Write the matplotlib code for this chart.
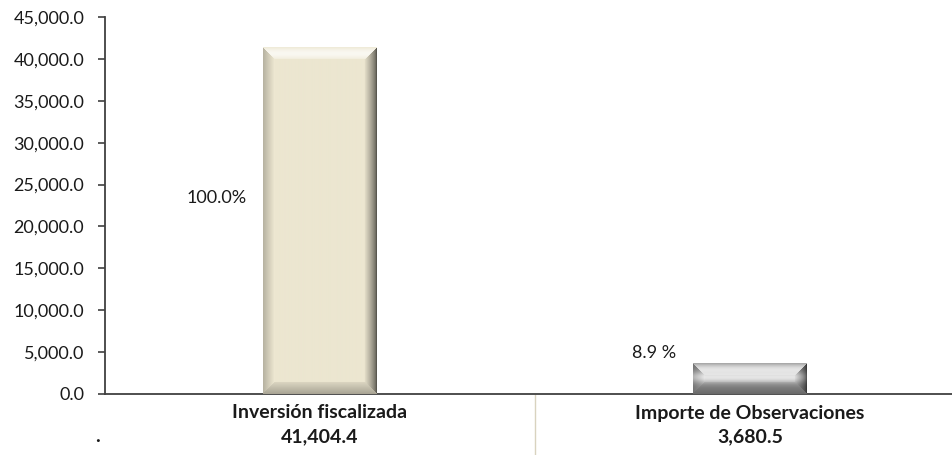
import numpy as np
import matplotlib
matplotlib.use('Agg')
import matplotlib.pyplot as plt
import matplotlib.transforms as mtransforms

plt.rcParams['font.family'] = ['Lato', 'DejaVu Sans']

# datos
categorias = ['Inversión fiscalizada', 'Importe de Observaciones']
importes = [41404.4, 3680.5]
porcentajes = ['100.0%', '8.9 %']
colores_cara = [(236, 230, 208), (175, 175, 175)]


def bevel_image(h, w, base, b=12, gris=False):
    # imagen RGB con efecto biselado
    ii, jj = np.mgrid[0:h, 0:w]
    face = np.ones((h, w, 3)) * np.array(base) / 255.0
    if gris:
        t = ii / max(h - 1, 1)
        perfil = 0.58 + 0.32 * np.exp(-((t - 0.45) / 0.2) ** 2)
        face = np.ones((h, w, 3)) * perfil[..., None]
    d_t, d_b = ii, h - 1 - ii
    d_l, d_r = jj, w - 1 - jj
    stack = np.stack([d_t, d_b, d_l, d_r])
    idx = np.argmin(stack, axis=0)
    dmin = np.min(stack, axis=0)
    f = np.clip(dmin / b, 0, 1)
    out = face.copy()
    m = dmin < b
    # arriba: claro
    top = m & (idx == 0)
    mix = 0.2 + 0.5 * np.sin(np.pi * f)
    out[top] = face[top] + (1 - face[top]) * mix[top][:, None]
    # abajo: algo oscuro
    bot = m & (idx == 1)
    out[bot] = face[bot] * (0.72 + 0.22 * f[bot])[:, None]
    # izquierda
    lef = m & (idx == 2)
    out[lef] = face[lef] * (0.78 + 0.25 * f[lef])[:, None]
    # derecha: oscuro
    rig = m & (idx == 3)
    out[rig] = face[rig] * (0.38 + 0.6 * f[rig] ** 0.7)[:, None]
    return np.clip(out, 0, 1)


fig = plt.figure(figsize=(9.52, 4.55), dpi=100)
ax = fig.add_axes([105 / 952, 1 - 394 / 455, 860 / 952, 377 / 455])

x = np.arange(len(categorias))
ancho = 0.263
barras = ax.bar(x, importes, width=ancho, color=[np.array(c) / 255 for c in colores_cara], zorder=2)

ax.set_xlim(-0.5, 1.5)
ax.set_ylim(0, 45000)
ax.set_yticks(np.arange(0, 45001, 5000))
ax.set_yticklabels([f'{v:,.1f}' for v in np.arange(0, 45001, 5000)], fontsize=13, color='#1a1a1a')
ax.set_xticks([])
for s in ['top', 'right']:
    ax.spines[s].set_visible(False)
ax.spines['left'].set_color('#404040')
ax.spines['bottom'].set_color('#404040')
ax.spines['left'].set_linewidth(1.3)
ax.spines['bottom'].set_linewidth(1.3)
ax.tick_params(axis='y', length=5, width=1.2, color='#404040', pad=10)

# biselado sobre cada barra
for i, p in enumerate(barras.patches):
    x0, y0 = p.get_x(), p.get_y()
    x1, y1 = x0 + p.get_width(), y0 + p.get_height()
    (px0, py0), (px1, py1) = ax.transData.transform([(x0, y0), (x1, y1)])
    w = max(int(round(px1 - px0)), 2)
    h = max(int(round(py1 - py0)), 2)
    img = bevel_image(h, w, colores_cara[i], b=12, gris=(i == 1))
    ax.imshow(img, extent=(x0, x1, y0, y1), aspect='auto', zorder=3, interpolation='bilinear')
    p.set_visible(False)

ax.set_xlim(-0.5, 1.5)
ax.set_ylim(0, 45000)

# porcentajes
ax.text(x[0] - 0.24, importes[0] * 0.565, porcentajes[0], ha='center', va='center', fontsize=13, color='#1a1a1a')
ax.text(x[1] - 0.222, importes[1] + 1200, porcentajes[1], ha='center', va='center', fontsize=13, color='#1a1a1a')

# tabla de datos
trans = mtransforms.blended_transform_factory(ax.transData, fig.transFigure)
for i, cat in enumerate(categorias):
    ax.text(x[i], 1 - 413 / 455, cat, transform=trans, ha='center', va='center', fontsize=14, fontweight='bold', color='#1a1a1a', clip_on=False)
    ax.text(x[i], 1 - 437 / 455, f'{importes[i]:,.1f}', transform=trans, ha='center', va='center', fontsize=14, fontweight='bold', color='#1a1a1a', clip_on=False)
fig.text(97 / 952, 1 - 437 / 455, '.', ha='center', va='center', fontsize=14, fontweight='bold', color='#1a1a1a')
ax.plot([0.5, 0.5], [1 - 395 / 455, 0], transform=trans, color='#d9d3bf', lw=1, clip_on=False)

fig.savefig('out.png', dpi=100)
